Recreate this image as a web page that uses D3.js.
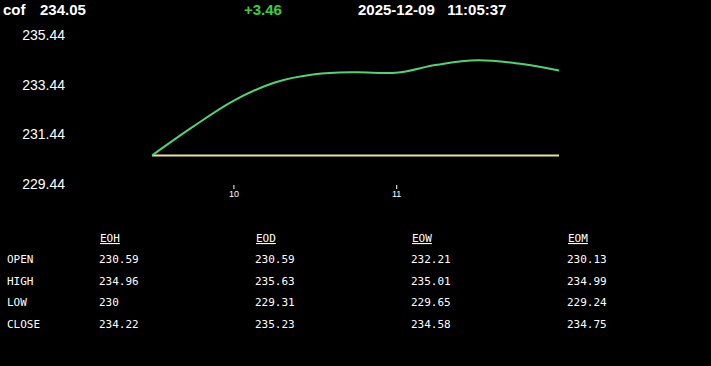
<!DOCTYPE html>
<html>
<head>
<meta charset="utf-8">
<script src="https://cdn.jsdelivr.net/npm/d3@7"></script>
<style>
  html, body { margin: 0; padding: 0; background: #000; }
  svg { display: block; }
</style>
</head>
<body>
<div id="chart"></div>
<script>
// ヘッダー
const symbol = 'cof'
const lastPrice = '234.05'
const change = '+3.46'
const stamp = '2025-12-09   11:05:37'

// 価格の推移 (9:30 からの分, 価格)
const minutes = [0, 15, 30, 45, 60, 75, 90, 105, 120, 135, 150]
const prices = [230.59, 231.74, 232.79, 233.52, 233.86, 233.94, 233.92, 234.24, 234.42, 234.29, 234.01]
const openPrice = 230.59

const yTicks = [229.44, 231.44, 233.44, 235.44]
const xTicks = [30, 90] // 10時, 11時
const xTickLabels = ['10', '11']

// 表
const columns = ['EOH', 'EOD', 'EOW', 'EOM']
const rowNames = ['OPEN', 'HIGH', 'LOW', 'CLOSE']
const eoh = ['230.59', '234.96', '230', '234.22']
const eod = ['230.59', '235.63', '229.31', '235.23']
const eow = ['232.21', '235.01', '229.65', '234.58']
const eom = ['230.13', '234.99', '229.24', '234.75']
const tableValues = [eoh, eod, eow, eom]

const width = 711, height = 366

const svg = d3.select('#chart')
  .append('svg')
  .attr('width', width)
  .attr('height', height)
  .style('background', '#000')

// ヘッダー文字
const header = svg.append('g')
  .style('font-family', 'Arial, "Liberation Sans", sans-serif')
  .style('font-weight', 'bold')
  .style('font-size', '15px')
header.append('text').attr('x', 3).attr('y', 15).attr('fill', '#fff').text(symbol)
header.append('text').attr('x', 40).attr('y', 15).attr('fill', '#fff').text(lastPrice)
header.append('text').attr('x', 244).attr('y', 15).attr('fill', '#3dcc3d').text(change)
header.append('text').attr('x', 358).attr('y', 15).attr('fill', '#fff')
  .attr('xml:space', 'preserve').style('white-space', 'pre').text(stamp)

// スケール
const x = d3.scaleLinear().domain([0, 150]).range([152, 559])
const y = d3.scaleLinear().domain([229.44, 235.44]).range([184, 35])

// y軸
const yAxis = svg.append('g')
  .attr('transform', 'translate(65,0)')
  .call(d3.axisLeft(y).tickValues(yTicks).tickSize(0).tickPadding(0).tickFormat(d3.format('.2f')))
yAxis.select('.domain').remove()
yAxis.selectAll('text')
  .attr('fill', '#fff')
  .style('font-family', 'Arial, "Liberation Sans", sans-serif')
  .style('font-size', '14px')

// x軸
const xAxis = svg.append('g')
  .attr('transform', 'translate(0,185)')
  .call(d3.axisBottom(x).tickValues(xTicks).tickSize(4).tickPadding(2).tickFormat((d, i) => xTickLabels[i]))
xAxis.select('.domain').remove()
xAxis.selectAll('line').attr('stroke', '#fff')
xAxis.selectAll('text')
  .attr('fill', '#fff')
  .style('font-family', 'Arial, "Liberation Sans", sans-serif')
  .style('font-size', '9px')

// 始値の線
svg.append('line')
  .attr('x1', x(minutes[0]))
  .attr('x2', x(minutes[minutes.length - 1]))
  .attr('y1', y(openPrice))
  .attr('y2', y(openPrice))
  .attr('stroke', '#e6e68a')
  .attr('stroke-width', 2)

// 価格線
const line = d3.line()
  .x((d, i) => x(minutes[i]))
  .y(d => y(d))
  .curve(d3.curveCatmullRom)

svg.append('path')
  .datum(prices)
  .attr('d', line)
  .attr('fill', 'none')
  .attr('stroke', '#52d273')
  .attr('stroke-width', 2)

// 表
const table = svg.append('g')
  .style('font-family', '"DejaVu Sans Mono", "Liberation Mono", monospace')
  .style('font-size', '11px')
  .attr('fill', '#fff')

const colX = [100, 256, 412, 568]
const rowY = [263, 285, 306, 328]

table.selectAll('.col')
  .data(columns)
  .enter()
  .append('text')
    .attr('x', (d, i) => colX[i])
    .attr('y', 242)
    .attr('text-decoration', 'underline')
    .text(d => d)

table.selectAll('.row')
  .data(rowNames)
  .enter()
  .append('text')
    .attr('x', 7)
    .attr('y', (d, i) => rowY[i])
    .text(d => d)

tableValues.forEach((col, c) => {
  table.selectAll(null)
    .data(col)
    .enter()
    .append('text')
      .attr('x', colX[c] - 1)
      .attr('y', (d, i) => rowY[i])
      .text(d => d)
})
</script>
</body>
</html>
